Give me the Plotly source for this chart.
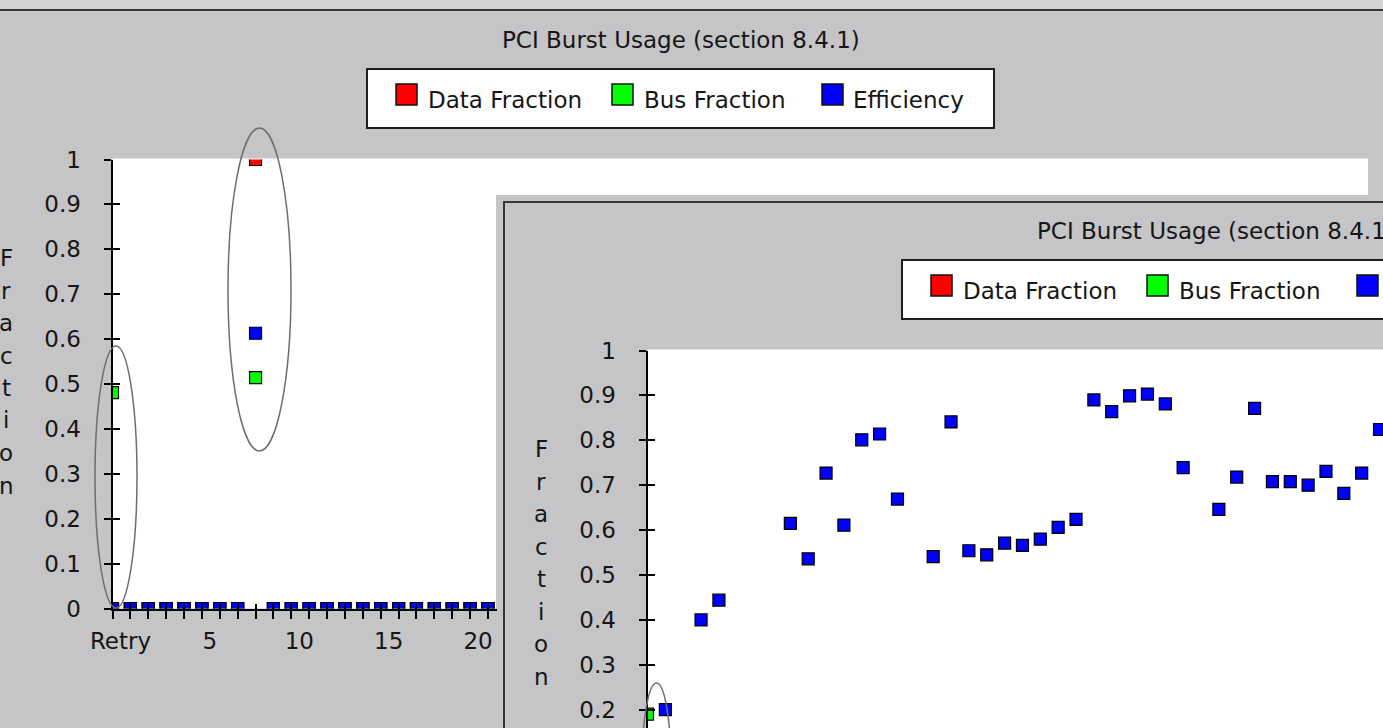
import plotly.graph_objects as go

W, H = 1383, 728

# ---------------- data ----------------
title_text = "PCI Burst Usage (section 8.4.1)"
series_names = ["Data Fraction", "Bus Fraction", "Efficiency"]
series_colors = ["#ff0000", "#00ff00", "#0000ff"]
axis_title_text = "Fraction"

# back chart (chart 1): category index 0 = "Retry"
c1_x = [0, 1, 2, 3, 4, 5, 6, 7, 8, 9, 10, 11, 12, 13, 14, 15, 16, 17, 18, 19, 20, 21]
c1_data = [0, 0, 0, 0, 0, 0, 0, 0, 1.0, 0, 0, 0, 0, 0, 0, 0, 0, 0, 0, 0, 0, 0]
c1_bus = [0.481, 0, 0, 0, 0, 0, 0, 0, 0.514, 0, 0, 0, 0, 0, 0, 0, 0, 0, 0, 0, 0, 0]
c1_eff = [0, 0, 0, 0, 0, 0, 0, 0, 0.613, 0, 0, 0, 0, 0, 0, 0, 0, 0, 0, 0, 0, 0]
c1_xtick_vals = [0, 1, 2, 3, 4, 5, 6, 7, 8, 9, 10, 11, 12, 13, 14, 15, 16, 17, 18, 19, 20, 21]
c1_xtick_text = ["Retry", "", "", "", "", "5", "", "", "", "", "10", "", "", "", "", "15",
                 "", "", "", "", "20", ""]

y_tick_vals = [0, 0.1, 0.2, 0.3, 0.4, 0.5, 0.6, 0.7, 0.8, 0.9, 1]
y_tick_text = ["0", "0.1", "0.2", "0.3", "0.4", "0.5", "0.6", "0.7", "0.8", "0.9", "1"]

# front chart (chart 2)
c2_x = [0, 1, 2, 3, 4, 5, 6, 7, 8, 9, 10, 11, 12, 13, 14, 15, 16, 17, 18, 19, 20,
        21, 22, 23, 24, 25, 26, 27, 28, 29, 30, 31, 32, 33, 34, 35, 36, 37, 38, 39, 40, 41]
c2_data = [None, None, None, None, None, None, None, None, None, None, None, None, None, None,
           None, None, None, None, None, None, None, None, None, None, None, None, None, None,
           None, None, None, None, None, None, None, None, None, None, None, None, None, None]
c2_bus = [0.19, None, None, None, None, None, None, None, None, None, None, None, None, None,
          None, None, None, None, None, None, None, None, None, None, None, None, None, None,
          None, None, None, None, None, None, None, None, None, None, None, None, None, None]
c2_eff = [None, 0.20, None, 0.40, 0.444, None, None, None, 0.615, 0.536, 0.727, 0.611, 0.801,
          0.814, 0.669, None, 0.541, 0.841, 0.554, 0.545, 0.571, 0.566, 0.580, 0.606, 0.624,
          0.890, 0.864, 0.899, 0.903, 0.881, 0.739, None, 0.646, 0.718, 0.871, 0.708, 0.708,
          0.700, 0.731, 0.682, 0.727, 0.824]

# ---------------- styling / layout helpers ----------------
FONT = "DejaVu Sans"
FS = 23
TXT = "#161616"
GRAY = "#c5c4c7"
DARK = "#363636"


def px(x):
    return x / W


def py(y):
    return 1 - y / H


def rect(x0, y0, x1, y1, fill, lc="rgba(0,0,0,0)", lw=0, layer="below"):
    return dict(type="rect", xref="paper", yref="paper", x0=px(x0), x1=px(x1),
                y0=py(y1), y1=py(y0), fillcolor=fill, line=dict(color=lc, width=lw),
                layer=layer)


def ellipse(x0, y0, x1, y1):
    return dict(type="circle", xref="paper", yref="paper", x0=px(x0), x1=px(x1),
                y0=py(y1), y1=py(y0), line=dict(color="#6e6e6e", width=1.5),
                fillcolor="rgba(0,0,0,0)", layer="above")


# chart geometry (pixels)
C1_AXX, C1_STEP = 112.5, 17.88
C1_Y0, C1_Y1 = 608.5, 159.5
C1_RIGHT = 497
C2_AXX, C2_STEP = 647.5, 17.855
C2_Y1, C2_UNIT = 350.5, 449.0
DX, DY = 535, 191  # offset of chart 2 relative to chart 1

shapes = []
# window strip and top frame line of chart 1
shapes.append(rect(0, 0, W, 9, "#d4d4d6"))
shapes.append(dict(type="line", xref="paper", yref="paper", x0=0, x1=1, y0=py(10), y1=py(10),
                   line=dict(color=DARK, width=2), layer="below"))
# chart 1 plot area
shapes.append(rect(C1_AXX, 158.5, 1368, C1_Y0, "white"))
# chart 2 window + frame
shapes.append(rect(496, 195, W + 20, H + 20, GRAY))
shapes.append(rect(504, 202, W + 40, H + 40, GRAY, DARK, 2))
# chart 2 plot area
shapes.append(rect(C2_AXX, C2_Y1 - 1, W + 20, H + 20, "white"))


def legend_shapes(dx, dy):
    out = [rect(367 + dx, 69 + dy, 994 + dx, 128 + dy, "white", "#1e1e1e", 2)]
    for sx, col in zip([396, 612, 822], series_colors):
        out.append(rect(sx + dx, 84 + dy, sx + 21 + dx, 105 + dy, col, "#111111", 1.5))
    return out


shapes += legend_shapes(0, 0)
shapes += legend_shapes(DX, DY)

# annotation ellipses
shapes.append(ellipse(95, 346, 137, 608))
shapes.append(ellipse(228, 128, 291, 451))
shapes.append(ellipse(642, 683, 671, 850))

annotations = []


def text(x, y, s, anchor="center"):
    return dict(xref="paper", yref="paper", x=px(x), y=py(y), text=s, showarrow=False,
                xanchor=anchor, yanchor="middle", font=dict(family=FONT, size=FS, color=TXT))


annotations.append(text(681, 40, title_text))
annotations.append(text(681 + DX, 40 + DY, title_text))
for tx, name in zip([426, 642, 851], series_names):
    annotations.append(text(tx, 100, name, "left"))
    if tx + DX < W - 20:
        annotations.append(text(tx + DX, 100 + DY, name, "left"))
for k, ch in enumerate(axis_title_text):
    annotations.append(text(6, 258 + 32.5 * k, ch))
    annotations.append(text(6 + DX, 258 + DY + 32.5 * k, ch))

fig = go.Figure()

marker_base = dict(symbol="square", size=12, line=dict(color="#000000", width=1.2))
for name, col, ys in zip(series_names, series_colors, [c1_data, c1_bus, c1_eff]):
    fig.add_trace(go.Scatter(x=c1_x, y=ys, mode="markers", name=name, xaxis="x", yaxis="y",
                             marker=dict(marker_base, color=col), showlegend=False))
for name, col, ys in zip(series_names, series_colors, [c2_data, c2_bus, c2_eff]):
    fig.add_trace(go.Scatter(x=c2_x, y=ys, mode="markers", name=name, xaxis="x2", yaxis="y2",
                             marker=dict(marker_base, color=col), showlegend=False))
# carriers for the inner halves of the crossing tick marks
fig.add_trace(go.Scatter(x=[None], y=[None], xaxis="x3", yaxis="y", showlegend=False,
                         hoverinfo="skip"))
fig.add_trace(go.Scatter(x=[None], y=[None], xaxis="x", yaxis="y3", showlegend=False,
                         hoverinfo="skip"))
fig.add_trace(go.Scatter(x=[None], y=[None], xaxis="x2", yaxis="y4", showlegend=False,
                         hoverinfo="skip"))

c1_xrange = [0, (C1_RIGHT - C1_AXX) / C1_STEP]
c2_xrange = [0, (W - C2_AXX) / C2_STEP]
c2_yrange = [(C2_Y1 + C2_UNIT - H) / C2_UNIT, 1]

tickfont = dict(family=FONT, size=FS, color=TXT)
common = dict(showgrid=False, zeroline=False, tickcolor="#000000", tickwidth=1.5,
              linecolor="#000000", linewidth=2)

fig.update_layout(
    width=W, height=H,
    margin=dict(l=0, r=0, t=0, b=0, pad=0, autoexpand=False),
    paper_bgcolor=GRAY, plot_bgcolor="rgba(0,0,0,0)",
    font=dict(family=FONT, size=FS, color=TXT),
    showlegend=False,
    xaxis=dict(common, domain=[px(C1_AXX), px(C1_RIGHT)], anchor="y", range=c1_xrange,
               tickmode="array", tickvals=c1_xtick_vals, ticktext=c1_xtick_text,
               ticks="outside", ticklen=8, showline=True, tickfont=tickfont,
               ticklabelshift=8, ticklabelstandoff=3),
    yaxis=dict(common, domain=[py(C1_Y0), py(C1_Y1)], anchor="x", range=[0, 1],
               tickmode="array", tickvals=y_tick_vals, ticktext=y_tick_text,
               ticks="outside", ticklen=7, showline=True, tickfont=tickfont,
               ticklabelstandoff=18),
    xaxis3=dict(common, overlaying="x", anchor="y", range=c1_xrange, tickmode="array",
                tickvals=c1_xtick_vals, ticks="inside", ticklen=5, showline=False,
                showticklabels=False),
    yaxis3=dict(common, overlaying="y", anchor="x", side="left", range=[0, 1],
                tickmode="array", tickvals=y_tick_vals, ticks="inside", ticklen=7,
                showline=False, showticklabels=False),
    xaxis2=dict(common, domain=[px(C2_AXX), 1], anchor="y2", range=c2_xrange,
                showline=False, ticks="", showticklabels=False),
    yaxis2=dict(common, domain=[0, py(C2_Y1)], anchor="x2", range=c2_yrange,
                tickmode="array", tickvals=y_tick_vals, ticktext=y_tick_text,
                ticks="outside", ticklen=7, showline=True, tickfont=tickfont,
                ticklabelstandoff=18),
    yaxis4=dict(common, overlaying="y2", anchor="x2", side="left", range=c2_yrange,
                tickmode="array", tickvals=y_tick_vals, ticks="inside", ticklen=7,
                showline=False, showticklabels=False),
    shapes=shapes,
    annotations=annotations,
)

fig.write_html("out.html")
